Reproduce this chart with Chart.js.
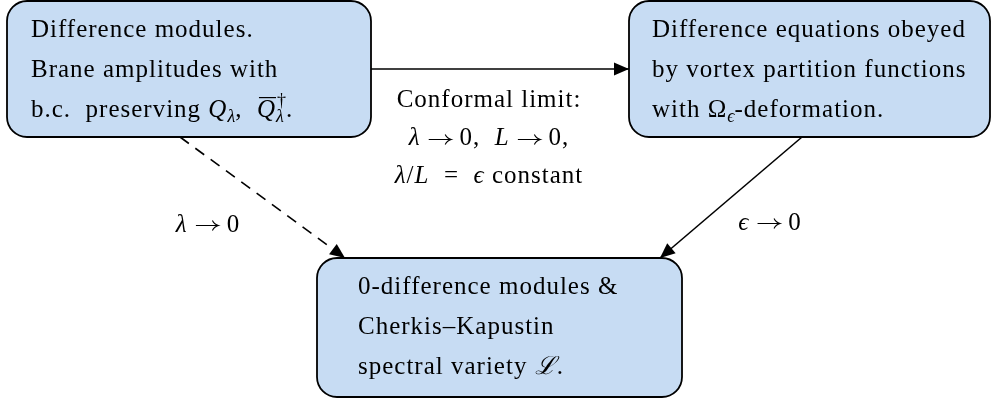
<!DOCTYPE html>
<html>
<head>
<meta charset="utf-8">
<script src="https://cdn.jsdelivr.net/npm/chart.js@4/dist/chart.umd.min.js"></script>
<style>
  html, body { margin: 0; padding: 0; background: #fff; }
  #wrap { width: 992px; height: 400px; }
</style>
</head>
<body>
<div id="wrap"><canvas id="diagram"></canvas></div>
<script>
// Diagram content: each node is a rounded box with three lines of text.
// Text parts: [text, kind]  r = roman, i = italic, o = italic with bar,
// b = subscript, P = superscript stacked over the next subscript, a = arrow
const nodeNames = ['difference', 'vortex', 'spectral'];
const nodeLines = [
    [
        [['Difference modules.', 'r']],
        [['Brane amplitudes with', 'r']],
        [['b.c.  preserving ', 'r'], ['Q', 'i'], ['λ', 'b'], [',  ', 'r'], ['Q', 'o'], ['†', 'P'], ['λ', 'b'], ['.', 'r']]
    ],
    [
        [['Difference equations obeyed', 'r']],
        [['by vortex partition functions', 'r']],
        [['with ', 'r'], ['Ω', 'r'], ['ϵ', 'b'], ['-deformation.', 'r']]
    ],
    [
        [['0-difference modules &', 'r']],
        [['Cherkis–Kapustin', 'r']],
        [['spectral variety ', 'r'], ['ℒ', 'i'], ['.', 'r']]
    ]
];
// edges: from node -> to node, dashed or not
const edgeFrom = [0, 0, 1];
const edgeTo = [1, 2, 2];
const edgeDashed = [false, true, false];
const edgeLabels = [
    [
        [['Conformal limit:', 'r']],
        [['λ', 'i'], [' ', 'r'], ['→', 'a'], [' 0,  ', 'r'], ['L', 'i'], [' ', 'r'], ['→', 'a'], [' 0,', 'r']],
        [['λ', 'i'], ['/', 'r'], ['L', 'i'], ['  =  ', 'r'], ['ϵ', 'i'], [' constant', 'r']]
    ],
    [[['λ', 'i'], [' ', 'r'], ['→', 'a'], [' 0', 'r']]],
    [[['ϵ', 'i'], [' ', 'r'], ['→', 'a'], [' 0', 'r']]]
];

// layout (in diagram units = pixels of the 992x400 page)
const boxes = [
    { x0: 7, x1: 371, y0: 1, y1: 137, tx: 31 },
    { x0: 629, x1: 990, y0: 1, y1: 137, tx: 652 },
    { x0: 317, x1: 682, y0: 258, y1: 397, tx: 358 }
];
const edgeStart = [{ x: 371, y: 69 }, { x: 180, y: 137 }, { x: 802, y: 137 }];
const edgeEnd = [{ x: 629, y: 69 }, { x: 345, y: 258 }, { x: 660, y: 258 }];
const labelPos = [{ x: 489, y: 107 }, { x: 208, y: 232 }, { x: 770, y: 230 }];

const SERIF = '"Liberation Serif", "DejaVu Serif", serif';
const FONT_SIZE = 25;
const LINE_GAP = 40;
const BOX_FILL = 'rgb(199, 220, 243)';

function fontFor(kind, size) {
    if (kind === 'i' || kind === 'o') return 'italic ' + size + 'px ' + SERIF;
    if (kind === 'b') return 'italic ' + Math.round(size * 0.7) + 'px ' + SERIF;
    if (kind === 'P') return Math.round(size * 0.7) + 'px ' + SERIF;
    return size + 'px ' + SERIF;
}

function spacingFor(kind) {
    return (kind === 'b' || kind === 'P') ? '0px' : '1px';
}

function measure(ctx, p, size) {
    if (p[1] === 'a') return size * 0.98;
    ctx.font = fontFor(p[1], size);
    ctx.letterSpacing = spacingFor(p[1]);
    return ctx.measureText(p[0]).width;
}

function lineWidth(ctx, parts, size) {
    let w = 0, stacked = 0;
    parts.forEach(function(p) {
        const pw = measure(ctx, p, size);
        if (p[1] === 'P') { stacked = pw; return; }
        w += Math.max(pw, stacked);
        stacked = 0;
    });
    return w;
}

// thin math arrow like \to
function drawArrow(ctx, x, y, w, size) {
    const ya = Math.round(y - size * 0.26) + 0.5;
    const x1 = x + w - 1;
    ctx.save();
    ctx.strokeStyle = '#000';
    ctx.lineWidth = 1.1;
    ctx.beginPath();
    ctx.moveTo(x + 1, ya);
    ctx.lineTo(x1, ya);
    ctx.moveTo(x1 - 6, ya - 5);
    ctx.quadraticCurveTo(x1 - 4, ya - 1, x1, ya);
    ctx.quadraticCurveTo(x1 - 4, ya + 1, x1 - 6, ya + 5);
    ctx.stroke();
    ctx.restore();
}

function drawRich(ctx, parts, x, y, size, align) {
    if (align === 'center') x -= lineWidth(ctx, parts, size) / 2;
    let supW = 0;
    ctx.textAlign = 'left';
    ctx.textBaseline = 'alphabetic';
    parts.forEach(function(p) {
        const pw = measure(ctx, p, size);
        if (p[1] === 'a') {
            drawArrow(ctx, x, y, pw, size);
            x += pw;
            return;
        }
        if (p[1] === 'P') {
            ctx.fillText(p[0], x + 1, y - size * 0.45);
            supW = pw + 1;
            return;
        }
        const dy = p[1] === 'b' ? size * 0.2 : 0;
        ctx.fillText(p[0], x, y + dy);
        if (p[1] === 'o') {
            ctx.fillRect(x + 2, y - size * 0.8, pw - 2, 1.2);
        }
        x += Math.max(pw, supW);
        supW = 0;
    });
    ctx.letterSpacing = '0px';
}

function roundRect(ctx, x0, y0, x1, y1, r) {
    ctx.beginPath();
    ctx.moveTo(x0 + r, y0);
    ctx.lineTo(x1 - r, y0);
    ctx.arcTo(x1, y0, x1, y0 + r, r);
    ctx.lineTo(x1, y1 - r);
    ctx.arcTo(x1, y1, x1 - r, y1, r);
    ctx.lineTo(x0 + r, y1);
    ctx.arcTo(x0, y1, x0, y1 - r, r);
    ctx.lineTo(x0, y0 + r);
    ctx.arcTo(x0, y0, x0 + r, y0, r);
    ctx.closePath();
}

// boxes go under the arrows, text and arrow heads on top
const diagramPlugin = {
    id: 'diagram',
    beforeDatasetsDraw: function(chart) {
        const ctx = chart.ctx;
        const sx = chart.scales.x, sy = chart.scales.y;
        ctx.save();
        boxes.forEach(function(b) {
            const x0 = sx.getPixelForValue(b.x0), x1 = sx.getPixelForValue(b.x1);
            const y0 = sy.getPixelForValue(b.y0), y1 = sy.getPixelForValue(b.y1);
            roundRect(ctx, x0, y0, x1, y1, 20);
            ctx.fillStyle = BOX_FILL;
            ctx.fill();
            ctx.lineWidth = 1.8;
            ctx.strokeStyle = '#000';
            ctx.stroke();
        });
        ctx.restore();
    },
    afterDatasetsDraw: function(chart) {
        const ctx = chart.ctx;
        const sx = chart.scales.x, sy = chart.scales.y;
        ctx.save();
        ctx.fillStyle = '#000';
        // arrow heads
        chart.data.datasets.forEach(function(ds, i) {
            const pts = chart.getDatasetMeta(i).data;
            const a = pts[pts.length - 2], b = pts[pts.length - 1];
            const ang = Math.atan2(b.y - a.y, b.x - a.x);
            const len = 15, half = 6.5;
            ctx.beginPath();
            ctx.moveTo(b.x, b.y);
            ctx.lineTo(b.x - len * Math.cos(ang) + half * Math.sin(ang), b.y - len * Math.sin(ang) - half * Math.cos(ang));
            ctx.lineTo(b.x - len * Math.cos(ang) - half * Math.sin(ang), b.y - len * Math.sin(ang) + half * Math.cos(ang));
            ctx.closePath();
            ctx.fill();
        });
        // node text
        nodeLines.forEach(function(lines, n) {
            const b = boxes[n];
            lines.forEach(function(parts, k) {
                drawRich(ctx, parts, sx.getPixelForValue(b.tx),
                    sy.getPixelForValue(b.y0) + 36 + k * LINE_GAP, FONT_SIZE, 'left');
            });
        });
        // edge labels
        edgeLabels.forEach(function(lines, e) {
            const p = labelPos[e];
            lines.forEach(function(parts, k) {
                drawRich(ctx, parts, sx.getPixelForValue(p.x),
                    sy.getPixelForValue(p.y) + k * 38, FONT_SIZE, 'center');
            });
        });
        ctx.restore();
    }
};

const datasets = edgeFrom.map(function(f, i) {
    return {
        label: nodeNames[f] + ' → ' + nodeNames[edgeTo[i]],
        data: [edgeStart[i], edgeEnd[i]],
        showLine: true,
        borderColor: '#000',
        borderWidth: 1.6,
        borderDash: edgeDashed[i] ? [11, 8] : [],
        pointRadius: 0,
        fill: false
    };
});

new Chart(document.getElementById('diagram'), {
    type: 'scatter',
    data: { datasets: datasets },
    options: {
        responsive: true,
        maintainAspectRatio: false,
        animation: false,
        layout: { padding: 0 },
        plugins: { legend: { display: false }, tooltip: { enabled: false } },
        scales: {
            x: { type: 'linear', min: 0, max: 992, display: false },
            y: { type: 'linear', min: 0, max: 400, reverse: true, display: false }
        }
    },
    plugins: [diagramPlugin]
});
</script>
</body>
</html>
